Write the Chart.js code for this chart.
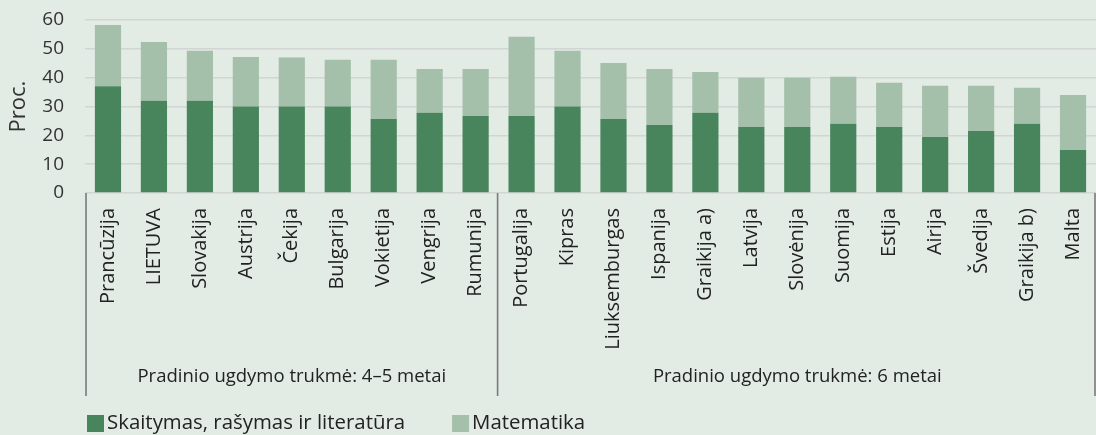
<!DOCTYPE html>
<html>
<head>
<meta charset="utf-8">
<script src="https://cdn.jsdelivr.net/npm/chart.js@4/dist/chart.umd.min.js"></script>
<style>
  html, body { margin: 0; padding: 0; background: #e3ebe5; }
  #wrap { width: 1096px; height: 435px; }
</style>
</head>
<body>
<div id="wrap"><canvas id="chart"></canvas></div>
<script>
const countries = ['Prancūzija', 'LIETUVA', 'Slovakija', 'Austrija', 'Čekija', 'Bulgarija', 'Vokietija', 'Vengrija', 'Rumunija',
    'Portugalija', 'Kipras', 'Liuksemburgas', 'Ispanija', 'Graikija a)', 'Latvija', 'Slovėnija', 'Suomija', 'Estija',
    'Airija', 'Švedija', 'Graikija b)', 'Malta'];
// literature part is the lower bar, maths sits on top of it
const literature = [37, 32, 32, 30, 30, 30, 25.7, 27.8, 26.7, 26.7, 30, 25.7, 23.6, 27.8, 22.9, 22.9, 24, 22.9, 19.4, 21.5, 24, 14.9];
const maths = [21.3, 20.4, 17.3, 17.2, 17, 16.2, 20.5, 15.2, 16.3, 27.5, 19.3, 19.4, 19.4, 14.2, 17.1, 17.1, 16.3, 15.3, 17.8, 15.7, 12.5, 19.1];
const groups = [
    { label: 'Pradinio ugdymo trukmė: 4–5 metai', from: 0, to: 8 },
    { label: 'Pradinio ugdymo trukmė: 6 metai', from: 9, to: 21 }
];
const yTicks = [0, 10, 20, 30, 40, 50, 60];

const FONT = '"Open Sans", sans-serif';
const darkGreen = '#48855c';
const lightGreen = '#a4c0aa';

// group separators, group titles and the legend under the axis
const groupPlugin = {
    id: 'groups',
    afterDraw(chart) {
        const c = chart.ctx;
        const x = chart.scales.x;
        const area = chart.chartArea;
        const half = (x.getPixelForValue(1) - x.getPixelForValue(0)) / 2;
        c.save();
        c.strokeStyle = '#7a7a7a';
        c.lineWidth = 1.6;
        const lines = [x.getPixelForValue(0) - half + 1];
        groups.forEach(g => lines.push(x.getPixelForValue(g.to) + half - 1));
        lines.forEach(px => {
            c.beginPath();
            c.moveTo(px, area.bottom);
            c.lineTo(px, area.bottom + 203);
            c.stroke();
        });
        c.fillStyle = '#222';
        c.font = '18.5px ' + FONT;
        c.textAlign = 'center';
        c.textBaseline = 'middle';
        groups.forEach(g => {
            const mid = (x.getPixelForValue(g.from) + x.getPixelForValue(g.to)) / 2;
            c.fillText(g.label, mid, area.bottom + 184);
        });
        // legend
        c.font = '20.4px ' + FONT;
        c.textAlign = 'left';
        let lx = 87;
        const ly = 423;
        chart.data.datasets.forEach(ds => {
            c.fillStyle = ds.backgroundColor;
            c.fillRect(lx, ly - 8, 17, 17);
            c.fillStyle = '#222';
            c.fillText(ds.label, lx + 20, ly);
            lx += 20 + c.measureText(ds.label).width + 47;
        });
        c.restore();
    }
};

new Chart(document.getElementById('chart'), {
    type: 'bar',
    data: {
        labels: countries,
        datasets: [
            {
                label: 'Skaitymas, rašymas ir literatūra',
                data: literature,
                backgroundColor: darkGreen,
                barPercentage: 0.57,
                categoryPercentage: 1
            },
            {
                label: 'Matematika',
                data: maths,
                backgroundColor: lightGreen,
                barPercentage: 0.57,
                categoryPercentage: 1
            }
        ]
    },
    options: {
        responsive: true,
        maintainAspectRatio: false,
        animation: false,
        layout: { padding: { top: 20, right: 0, bottom: 0, left: 0 } },
        plugins: {
            legend: { display: false },
            tooltip: { enabled: false }
        },
        scales: {
            x: {
                stacked: true,
                grid: { display: false, drawTicks: false },
                border: { display: false },
                ticks: {
                    color: '#222',
                    font: { family: FONT, size: 20 },
                    minRotation: 90,
                    maxRotation: 90,
                    autoSkip: false,
                    padding: 15
                },
                afterFit(scale) {
                    scale.height = 242;
                    scale.paddingLeft = 0;
                    scale.paddingRight = 0;
                }
            },
            y: {
                stacked: true,
                min: 0,
                max: 60,
                afterBuildTicks(scale) { scale.ticks = yTicks.map(v => ({ value: v })); },
                grid: { color: '#d2d5d3', lineWidth: 1.5, drawTicks: false },
                border: { display: false },
                ticks: {
                    color: '#333',
                    font: { family: FONT, size: 19 },
                    padding: 21
                },
                title: {
                    display: true,
                    text: 'Proc.',
                    color: '#333',
                    font: { family: FONT, size: 22 },
                    padding: { top: 6, bottom: 0 }
                },
                afterFit(scale) {
                    scale.width = 85;
                    scale.paddingTop = 0;
                    scale.paddingBottom = 0;
                }
            }
        }
    },
    plugins: [groupPlugin]
});
</script>
</body>
</html>
